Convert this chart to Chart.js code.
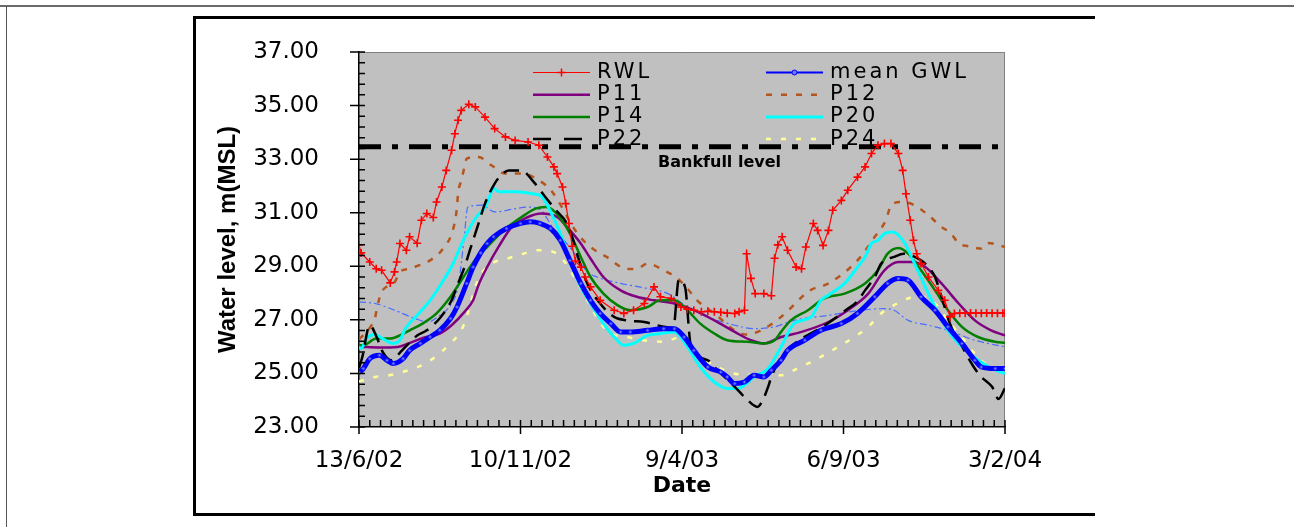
<!DOCTYPE html>
<html>
<head>
<meta charset="utf-8">
<script src="https://cdn.jsdelivr.net/npm/chart.js@4.4.1/dist/chart.umd.min.js"></script>
<style>
  html, body { margin: 0; padding: 0; background: #fff; }
  #page { position: relative; width: 1294px; height: 527px; overflow: hidden; }
  #topline { position: absolute; left: 0; top: 5px; width: 1294px; border-top: 2px solid #6a6a6a; }
  #leftline { position: absolute; left: 6px; top: 6px; height: 521px; border-left: 1px solid #555; }
  #frame { position: absolute; left: 193px; top: 16px; width: 902px; height: 500px; box-sizing: border-box;
           border: 3px solid #000; border-right: none; }
  #chart { position: absolute; left: 0; top: 0; }
</style>
</head>
<body>
<div id="page">
  <div id="topline"></div>
  <div id="leftline"></div>
  <div id="frame"></div>
  <canvas id="chart" width="1294" height="527"></canvas>
</div>
<script>
// days counted from 13/6/02
const xTickDays = [0, 150, 300, 450, 600];
const xTickLabels = ['13/6/02', '10/11/02', '9/4/03', '6/9/03', '3/2/04'];
const bankfull = 33.46;

// RWL - river water level
const rwlDays = [0,2,10,16,21,29,33,35,38,44,47,54,58,63,69,72,77,81,86,89,92,95,102,108,117,126,136,145,157,167,
  175,181,184,189,192,195,198,201,206,210,215,224,237,246,255,265,274,280,290,299,305,311,318,324,330,336,342,349,353,358,
  360,364,368,376,383,386,389,393,398,406,411,415,422,426,431,436,440,448,454,463,470,476,482,488,494,501,505,508,512,515,
  518,522,529,538,544,549,553,558,563,568,573,578,583,588,593,598,600];
const rwlLevel = [29.80,29.50,29.16,28.91,28.85,28.38,28.79,29.16,29.85,29.60,30.10,29.86,30.72,30.97,30.82,31.40,31.96,32.58,33.33,33.95,
  34.45,34.82,35.05,34.95,34.57,34.14,33.83,33.70,33.64,33.52,33.08,32.71,32.46,31.96,31.34,30.60,29.75,29.20,28.97,28.60,
  28.23,27.73,27.36,27.24,27.36,27.61,28.23,27.86,27.80,27.48,27.40,27.36,27.30,27.32,27.30,27.28,27.25,27.24,27.30,27.36,
  29.47,28.55,27.98,27.98,27.90,29.30,29.80,30.10,29.60,28.97,28.91,29.72,30.60,30.34,29.78,30.34,31.09,31.46,31.84,32.33,
  32.71,33.21,33.52,33.58,33.58,33.21,32.58,31.71,30.72,29.97,29.47,29.10,28.60,28.10,27.73,27.11,27.24,27.25,27.25,27.26,
  27.25,27.25,27.26,27.25,27.25,27.25,27.26];

// mean GWL
const meanDays = [0,4,10,19,26,32,41,47,57,66,75,85,91,100,106,113,119,125,137,150,159,168,178,187,196,206,215,224,234,243,
  252,268,283,293,302,311,324,336,342,349,358,367,376,383,392,398,414,429,448,463,479,491,501,510,522,535,547,560,572,578,591,600];
const meanLevel = [25.03,25.18,25.55,25.68,25.49,25.37,25.55,25.86,26.12,26.36,26.61,27.05,27.48,28.36,28.97,29.50,29.85,30.10,30.41,30.60,
  30.66,30.60,30.41,29.97,29.22,28.36,27.73,27.24,26.86,26.55,26.55,26.61,26.67,26.67,26.36,25.86,25.24,25.05,24.87,24.62,
  24.68,24.93,24.87,25.12,25.49,25.86,26.24,26.61,26.86,27.24,27.86,28.36,28.54,28.48,27.86,27.36,26.74,26.12,25.49,25.24,25.18,25.18];

const p11Days = [0,20,36,46,60,75,86,98,106,111,119,130,142,157,169,184,196,206,215,227,243,258,274,293,311,330,349,364,376,392,
  411,436,454,473,488,501,513,526,541,557,572,587,600];
const p11Level = [26.00,25.97,25.99,26.12,26.33,26.49,26.80,27.30,27.73,28.30,28.97,29.75,30.47,30.84,30.97,30.84,30.34,29.85,29.29,28.60,
  28.10,27.86,27.73,27.61,27.36,26.98,26.55,26.24,26.12,26.36,26.55,26.92,27.36,27.98,28.85,29.16,29.16,28.97,28.36,27.61,26.98,26.61,26.42];

const p12Days = [0,10,15,17,21,33,38,47,56,66,78,88,91,92,95,98,100,111,123,136,151,167,179,203,215,230,249,258,268,283,
  296,305,314,330,349,360,373,392,419,436,463,479,490,494,504,516,529,541,550,557,566,578,584,600];
const p12Level = [26.27,26.70,27.10,27.50,28.04,28.40,28.79,28.91,29.04,29.22,29.66,30.47,31.20,31.71,32.21,32.71,33.02,33.08,32.77,32.46,
  32.46,32.21,31.80,30.22,29.72,29.35,28.90,28.91,29.10,28.85,28.54,28.17,27.73,27.24,26.61,26.45,26.60,27.11,28.10,28.36,
  29.22,30.10,30.78,31.28,31.40,31.28,30.90,30.47,30.22,29.85,29.75,29.66,29.87,29.72];

const p14Days = [0,4,16,29,38,47,59,72,85,97,109,119,136,151,164,173,182,196,206,215,227,240,252,268,280,293,305,317,330,342,
  361,376,386,392,401,417,432,451,470,482,491,501,510,522,535,547,560,575,591,600];
const p14Level = [26.05,26.05,26.30,26.30,26.42,26.61,26.86,27.24,27.86,28.60,29.30,29.72,30.40,30.84,31.15,31.21,31.03,30.22,29.35,28.60,
  27.98,27.55,27.36,27.48,27.73,27.73,27.36,26.86,26.49,26.24,26.18,26.12,26.24,26.55,26.98,27.36,27.80,27.98,28.36,28.85,
  29.47,29.68,29.47,28.85,28.10,27.36,26.74,26.36,26.18,26.14];

const p20Days = [0,2,7,15,22,32,38,43,54,66,78,88,94,100,109,117,120,125,130,145,161,170,179,187,196,206,215,227,237,246,
  255,268,280,293,305,317,330,342,352,367,380,392,404,420,429,436,451,463,470,476,482,488,496,507,516,526,535,547,560,575,591,600];
const p20Level = [25.99,25.93,26.30,26.45,26.30,26.12,26.24,26.67,27.17,27.73,28.45,29.15,29.72,30.22,30.84,31.20,31.47,31.90,31.78,31.78,
  31.71,31.59,30.95,30.22,29.22,28.23,27.61,26.86,26.36,26.05,26.12,26.42,26.49,26.55,25.99,25.24,24.68,24.44,24.44,24.87,
  25.18,25.99,26.86,27.11,27.73,27.92,28.36,28.97,29.35,29.85,29.97,30.22,30.28,29.85,29.10,28.23,27.48,26.61,25.99,25.49,25.12,25.00];

const p22Days = [0,3,10,16,22,30,40,54,63,76,86,92,98,103,110,117,126,132,139,151,161,173,183,193,199,203,212,224,237,249,
  265,283,292,297,303,308,324,333,349,361,370,375,380,383,392,404,429,440,452,463,470,479,485,497,506,522,529,535,541,550,
  557,571,578,588,594,600];
const p22Level = [25.20,25.60,26.80,26.40,25.80,25.49,25.86,26.42,26.61,27.11,27.73,28.36,28.97,29.60,30.47,31.34,32.09,32.40,32.58,32.58,
  32.21,31.59,31.09,30.60,29.97,29.40,28.36,27.61,27.11,26.98,26.92,26.74,26.70,28.50,28.20,26.10,25.49,25.12,24.50,24.00,
  23.75,24.00,24.50,24.87,25.60,26.10,26.70,27.00,27.36,27.70,28.10,28.60,29.10,29.35,29.47,29.22,28.97,28.60,27.86,26.74,
  26.24,25.24,24.87,24.50,24.05,24.45];

const p24Days = [0,15,31,46,58,71,83,95,100,108,114,123,138,151,167,181,190,200,230,249,283,299,311,327,349,361,392,407,423,445,
  460,473,485,497,510,522,535,547,560,572,584,600];
const p24Level = [24.70,24.87,24.95,25.12,25.30,25.62,26.05,26.61,27.11,28.23,28.75,29.10,29.29,29.45,29.60,29.53,29.22,28.60,26.61,26.36,
  26.18,26.36,25.86,25.37,24.99,24.95,24.93,25.18,25.49,25.99,26.36,26.74,27.24,27.55,27.80,27.86,27.61,26.98,26.36,25.74,25.30,24.99];

// thin blue dash-dot series (no legend entry)
const otherDays = [0,15,33,52,64,73,86,92,95,98,101,114,126,145,157,169,179,196,212,221,243,268,287,305,324,349,367,386,404,436,
  467,488,497,510,529,547,572,600];
const otherLevel = [27.67,27.61,27.36,27.05,26.92,27.11,27.61,28.23,29.10,30.22,31.21,31.28,31.03,31.15,31.21,31.10,30.50,29.70,28.80,28.60,
  28.36,28.17,27.98,27.48,27.11,26.80,26.67,26.74,26.98,27.17,27.36,27.42,27.36,26.98,26.80,26.61,26.24,25.99];

const pts = (d, v) => d.map((x, i) => ({ x: x, y: v[i] }));

function gwl(label, days, vals, color, width, dash) {
  return {
    label: label, data: pts(days, vals), borderColor: color, borderWidth: width,
    borderDash: dash || [], pointRadius: 0, cubicInterpolationMode: 'monotone', fill: false
  };
}

const datasets = [
  { label: 'RWL', data: pts(rwlDays, rwlLevel), borderColor: '#ff0000', borderWidth: 1.2,
    pointStyle: 'cross', pointRadius: 4, pointBorderWidth: 1.6, pointBorderColor: '#ff0000', tension: 0 },
  { label: 'Bankfull level', data: [{ x: 0, y: bankfull }, { x: 600, y: bankfull }], borderColor: '#000',
    borderWidth: 5, borderDash: [22, 11, 6, 11], pointRadius: 0, borderCapStyle: 'butt' },
  { label: 'mean GWL', data: pts(meanDays, meanLevel), borderColor: '#0000ff', borderWidth: 5,
    pointRadius: 1.5, pointBorderColor: '#2a2aff', pointBackgroundColor: '#6b7bff', pointBorderWidth: 1,
    cubicInterpolationMode: 'monotone' },
  gwl('P22', p22Days, p22Level, '#000000', 2.5, [16, 8]),
  gwl('P20', p20Days, p20Level, '#00ffff', 3),
  gwl('P14', p14Days, p14Level, '#008000', 2.5),
  gwl('P11', p11Days, p11Level, '#800080', 2.5),
  gwl('P12', p12Days, p12Level, '#b5561f', 2.5, [6, 8]),
  gwl('P24', p24Days, p24Level, '#ffff99', 2.5, [5, 10]),
  gwl('other', otherDays, otherLevel, '#4a6cff', 1.2, [7, 3, 2, 3])
];

const legendCols = [['RWL', 'P11', 'P14', 'P22'], ['mean GWL', 'P12', 'P20', 'P24']];

const decor = {
  id: 'decor',
  beforeDraw(chart) {
    const { ctx, chartArea: a } = chart;
    ctx.save();
    ctx.fillStyle = '#c0c0c0';
    ctx.fillRect(a.left, a.top, a.right - a.left, a.bottom - a.top);
    ctx.strokeStyle = '#808080';
    ctx.lineWidth = 1;
    ctx.beginPath();
    ctx.moveTo(a.left, a.top + 0.5);
    ctx.lineTo(a.right - 0.5, a.top + 0.5);
    ctx.lineTo(a.right - 0.5, a.bottom);
    ctx.stroke();
    ctx.restore();
  },
  afterDraw(chart) {
    const { ctx, chartArea: a, scales } = chart;
    const xs = scales.x, ys = scales.y;
    ctx.save();
    // tick marks, minor every 10 days / 0.4 m
    ctx.strokeStyle = '#000';
    ctx.lineWidth = 1.5;
    ctx.beginPath();
    for (let i = 0; i <= 60; i++) {
      const px = xs.getPixelForValue(i * 10);
      ctx.moveTo(px, a.bottom - 7);
      ctx.lineTo(px, i % 15 === 0 ? a.bottom + 7 : a.bottom);
    }
    for (let i = 0; i <= 35; i++) {
      const py = ys.getPixelForValue(23 + i * 0.4);
      ctx.moveTo(i % 5 === 0 ? a.left - 9 : a.left, py);
      ctx.lineTo(a.left + 6, py);
    }
    ctx.stroke();

    // legend
    ctx.font = '21px "DejaVu Sans"';
    ctx.letterSpacing = '3px';
    ctx.fillStyle = '#000';
    ctx.textAlign = 'left';
    ctx.textBaseline = 'alphabetic';
    const colX = [a.left + 174, a.left + 407];
    legendCols.forEach((col, c) => {
      col.forEach((label, r) => {
        const ds = chart.data.datasets.find(d => d.label === label);
        const base = a.top + 26 + r * 22.2;
        const ly = base - 5.5;
        const x0 = colX[c], x1 = x0 + 57;
        ctx.save();
        ctx.strokeStyle = ds.borderColor;
        ctx.lineWidth = label === 'mean GWL' ? 2 : Math.min(ds.borderWidth, 3);
        let dash = ds.borderDash || [];
        if (label === 'P22') dash = [18, 13];
        if (label === 'P12') dash = [6, 9];
        ctx.setLineDash(dash);
        ctx.beginPath();
        ctx.moveTo(x0, ly);
        ctx.lineTo(x1, ly);
        ctx.stroke();
        ctx.setLineDash([]);
        const mx = (x0 + x1) / 2;
        if (label === 'RWL') {
          ctx.lineWidth = 1.5;
          ctx.beginPath();
          ctx.moveTo(mx, ly - 4); ctx.lineTo(mx, ly + 4);
          ctx.moveTo(mx - 4, ly); ctx.lineTo(mx + 4, ly);
          ctx.stroke();
        } else if (label === 'mean GWL') {
          ctx.lineWidth = 1;
          ctx.fillStyle = '#6b7bff';
          ctx.beginPath();
          ctx.arc(mx, ly, 2.5, 0, Math.PI * 2);
          ctx.fill(); ctx.stroke();
        }
        ctx.restore();
        ctx.fillText(label, x1 + 7, base);
      });
    });

    // bankfull label
    ctx.letterSpacing = '0px';
    ctx.font = 'bold 16px "DejaVu Sans"';
    ctx.fillText('Bankfull level', a.left + 299, ys.getPixelForValue(bankfull) + 20.5);
    ctx.restore();
  }
};

new Chart(document.getElementById('chart'), {
  type: 'line',
  data: { datasets: datasets },
  plugins: [decor],
  options: {
    responsive: false,
    animation: false,
    devicePixelRatio: 1,
    layout: { padding: { left: 200, right: 289, top: 52, bottom: 20 } },
    plugins: { legend: { display: false }, tooltip: { enabled: false } },
    elements: { line: { fill: false } },
    scales: {
      x: {
        type: 'linear', min: 0, max: 600,
        afterBuildTicks: s => { s.ticks = xTickDays.map(v => ({ value: v })); },
        afterFit: s => { s.height = 80; },
        grid: { display: false },
        border: { display: true, color: '#000', width: 1.5 },
        ticks: {
          autoSkip: false, maxRotation: 0, padding: 12, color: '#000',
          font: { family: 'DejaVu Sans', size: 23 },
          callback: v => xTickLabels[xTickDays.indexOf(v)]
        },
        title: {
          display: true, text: 'Date', color: '#000',
          font: { family: 'DejaVu Sans', size: 22, weight: 'bold' },
          padding: { top: 0, bottom: 8 }
        }
      },
      y: {
        min: 23, max: 37,
        afterFit: s => { s.width = 159; },
        grid: { display: false },
        border: { display: true, color: '#000', width: 1.5 },
        ticks: {
          stepSize: 2, padding: 32, color: '#000',
          font: { family: 'DejaVu Sans', size: 23 },
          callback: v => v.toFixed(2)
        },
        title: {
          display: true, text: 'Water level, m(MSL)', color: '#000',
          font: { family: 'Liberation Sans', size: 24, weight: 'bold' },
          padding: { top: 14, bottom: 0 }
        }
      }
    }
  }
});
</script>
</body>
</html>
